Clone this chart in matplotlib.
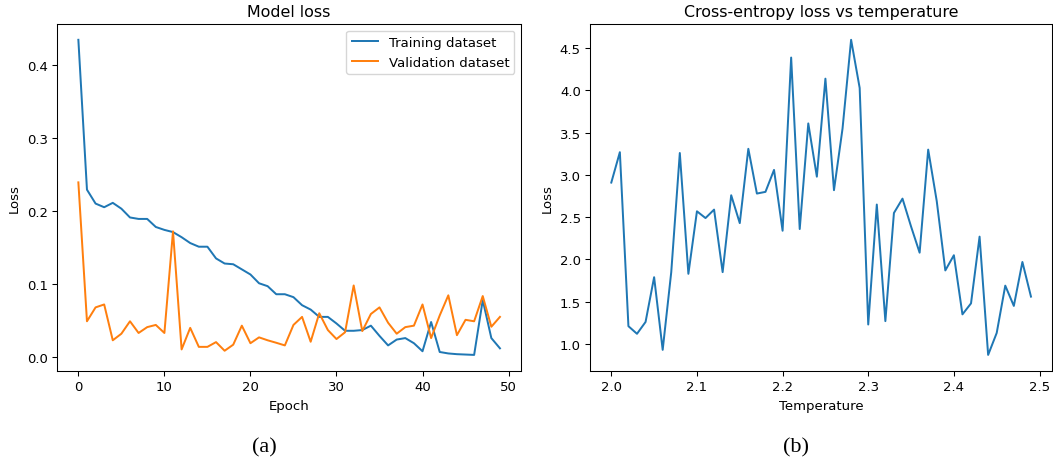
import numpy as np
import matplotlib.pyplot as plt

# ---------------- data ---------------- #
epochs = np.arange(50)
train_loss = [0.434, 0.229, 0.210, 0.205, 0.211, 0.203, 0.191, 0.189, 0.189, 0.178,
              0.174, 0.171, 0.164, 0.156, 0.151, 0.151, 0.135, 0.128, 0.127, 0.120,
              0.113, 0.101, 0.097, 0.086, 0.086, 0.082, 0.071, 0.065, 0.055, 0.055,
              0.046, 0.036, 0.036, 0.037, 0.043, 0.029, 0.016, 0.024, 0.026, 0.019,
              0.008, 0.048, 0.007, 0.005, 0.004, 0.0035, 0.003, 0.078, 0.026, 0.012]
val_loss = [0.239, 0.049, 0.068, 0.072, 0.023, 0.032, 0.049, 0.033, 0.041, 0.044,
            0.033, 0.172, 0.0105, 0.040, 0.014, 0.014, 0.0205, 0.0087, 0.017, 0.043,
            0.019, 0.027, 0.023, 0.0196, 0.016, 0.044, 0.055, 0.021, 0.060, 0.037,
            0.0247, 0.034, 0.098, 0.0356, 0.059, 0.068, 0.047, 0.032, 0.041, 0.043,
            0.072, 0.026, 0.057, 0.0845, 0.030, 0.051, 0.049, 0.0835, 0.0415, 0.055]

temperatures = np.round(np.arange(2.00, 2.495, 0.01), 2)
ce_loss = [2.91, 3.27, 1.21, 1.12, 1.26, 1.79, 0.93, 1.85, 3.26, 1.83,
           2.57, 2.49, 2.59, 1.85, 2.76, 2.43, 3.31, 2.78, 2.80, 3.06,
           2.34, 4.39, 2.36, 3.61, 2.98, 4.14, 2.82, 3.55, 4.60, 4.03,
           1.23, 2.65, 1.27, 2.55, 2.72, 2.39, 2.08, 3.30, 2.69, 1.87,
           2.05, 1.35, 1.48, 2.27, 0.87, 1.13, 1.69, 1.45, 1.97, 1.56]

# ---------------- styling ---------------- #
s = 0.95
plt.rcParams.update({
    'font.size': 10 * s,
    'axes.titlesize': 12 * s,
    'axes.labelsize': 10 * s,
    'xtick.labelsize': 10 * s,
    'ytick.labelsize': 10 * s,
    'legend.fontsize': 10 * s,
    'lines.linewidth': 1.5 * s,
    'axes.linewidth': 0.8 * s,
    'xtick.major.size': 3.5 * s,
    'ytick.major.size': 3.5 * s,
    'xtick.major.width': 0.8 * s,
    'ytick.major.width': 0.8 * s,
})

fig = plt.figure(figsize=(10.53, 4.64), dpi=100)
ax1 = fig.add_axes([0.0544, 0.199, 0.4404, 0.747])
ax2 = fig.add_axes([0.5606, 0.199, 0.4384, 0.747])

# (a) model loss
ax1.plot(epochs, train_loss, label='Training dataset')
ax1.plot(epochs, val_loss, label='Validation dataset')
ax1.set_title('Model loss')
ax1.set_xlabel('Epoch')
ax1.set_ylabel('Loss')
ax1.legend(loc='upper right')

# (b) cross-entropy vs temperature
ax2.plot(temperatures, ce_loss)
ax2.set_title('Cross-entropy loss vs temperature')
ax2.set_xlabel('Temperature')
ax2.set_ylabel('Loss')

# sub-figure captions
cap = dict(family=['Liberation Serif', 'DejaVu Serif'], fontsize=16,
           ha='center', va='center')
fig.text(264 / 1053, 1 - 448 / 464, '(a)', **cap)
fig.text(796 / 1053, 1 - 448 / 464, '(b)', **cap)

fig.savefig('out.png', dpi=100)
